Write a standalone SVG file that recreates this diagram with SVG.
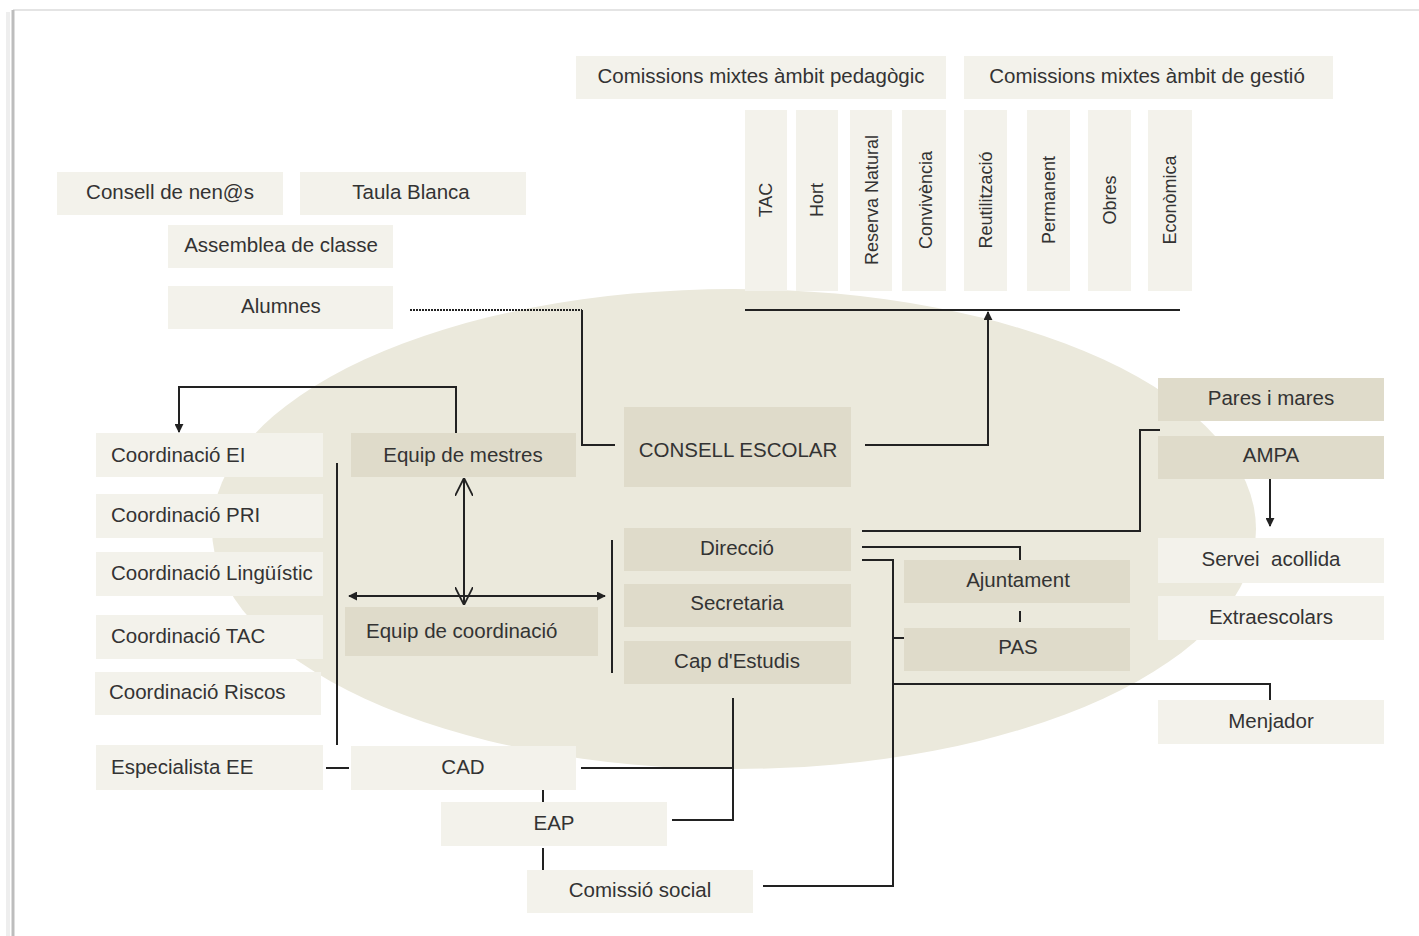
<svg xmlns="http://www.w3.org/2000/svg" width="1419" height="936" viewBox="0 0 1419 936">
<defs>
<marker id="ah" viewBox="0 0 10 10" refX="9" refY="5" markerWidth="9" markerHeight="9" orient="auto-start-reverse" markerUnits="userSpaceOnUse"><path d="M0,0 L10,5 L0,10 z" fill="#222"/></marker>
<marker id="ov" viewBox="0 0 10 10" refX="10" refY="5" markerWidth="18" markerHeight="18" orient="auto-start-reverse" markerUnits="userSpaceOnUse"><path d="M0,0 L10,5 L0,10" fill="none" stroke="#222" stroke-width="1"/></marker>
</defs>
<style>
.lt{fill:#f3f2eb}
.dk{fill:#dfdbca}
text{font-family:"Liberation Sans",Arial,sans-serif;font-size:20.5px;fill:#333;text-anchor:middle;white-space:pre}
.l{text-anchor:start}
.v{font-size:18px}
.c path{stroke:#222;stroke-width:2;fill:none}
</style>
<rect width="1419" height="936" fill="#fff"/>
<line x1="13" y1="10" x2="1419" y2="10" stroke="#e4e4e4" stroke-width="2"/>
<line x1="13" y1="10" x2="13" y2="936" stroke="#bdbdbd" stroke-width="3"/>
<line x1="8" y1="12" x2="8" y2="936" stroke="#eee" stroke-width="4"/>
<ellipse cx="734" cy="529" rx="522" ry="240" fill="#ebe9dc"/>

<g id="consell-nens"><rect class="lt" x="57" y="172" width="226" height="43"/><text x="170" y="199">Consell de nen@s</text></g>
<g id="taula-blanca"><rect class="lt" x="300" y="172" width="226" height="43"/><text x="411" y="199">Taula Blanca</text></g>
<g id="assemblea"><rect class="lt" x="168" y="225" width="225" height="43"/><text x="281" y="252">Assemblea de classe</text></g>
<g id="alumnes"><rect class="lt" x="168" y="286" width="225" height="43"/><text x="281" y="313">Alumnes</text></g>

<g id="cm-pedagogic"><rect class="lt" x="576" y="56" width="370" height="43"/><text x="761" y="83">Comissions mixtes àmbit pedagògic</text></g>
<g id="cm-gestio"><rect class="lt" x="964" y="56" width="369" height="43"/><text x="1147" y="83">Comissions mixtes àmbit de gestió</text></g>

<g id="tac"><rect class="lt" x="745" y="110" width="42" height="181"/><text class="v" transform="translate(772,200) rotate(-90)">TAC</text></g>
<g id="hort"><rect class="lt" x="796" y="110" width="42" height="181"/><text class="v" transform="translate(823,200) rotate(-90)">Hort</text></g>
<g id="reserva"><rect class="lt" x="850" y="110" width="42" height="181"/><text class="v" transform="translate(878,200) rotate(-90)">Reserva Natural</text></g>
<g id="convivencia"><rect class="lt" x="902" y="110" width="44" height="181"/><text class="v" transform="translate(932,200) rotate(-90)">Convivència</text></g>
<g id="reutilitzacio"><rect class="lt" x="964" y="110" width="43" height="181"/><text class="v" transform="translate(992,200) rotate(-90)">Reutilització</text></g>
<g id="permanent"><rect class="lt" x="1027" y="110" width="43" height="181"/><text class="v" transform="translate(1055,200) rotate(-90)">Permanent</text></g>
<g id="obres"><rect class="lt" x="1088" y="110" width="43" height="181"/><text class="v" transform="translate(1116,200) rotate(-90)">Obres</text></g>
<g id="economica"><rect class="lt" x="1148" y="110" width="44" height="181"/><text class="v" transform="translate(1176,200) rotate(-90)">Econòmica</text></g>

<g id="consell-escolar"><rect class="dk" x="624" y="407" width="227" height="80"/><text x="738" y="457">CONSELL ESCOLAR</text></g>

<g id="coord-ei"><rect class="lt" x="96" y="433" width="227" height="44"/><text class="l" x="111" y="462">Coordinació EI</text></g>
<g id="coord-pri"><rect class="lt" x="96" y="494" width="227" height="44"/><text class="l" x="111" y="522">Coordinació PRI</text></g>
<g id="coord-ling"><rect class="lt" x="96" y="552" width="227" height="44"/><text class="l" x="111" y="580">Coordinació Lingüístic</text></g>
<g id="coord-tac"><rect class="lt" x="96" y="615" width="227" height="44"/><text class="l" x="111" y="643">Coordinació TAC</text></g>
<g id="coord-riscos"><rect class="lt" x="95" y="672" width="226" height="43"/><text class="l" x="109" y="699">Coordinació Riscos</text></g>
<g id="especialista"><rect class="lt" x="96" y="745" width="227" height="45"/><text class="l" x="111" y="774">Especialista EE</text></g>

<g id="equip-mestres"><rect class="dk" x="351" y="433" width="225" height="44"/><text x="463" y="462">Equip de mestres</text></g>
<g id="equip-coord"><rect class="dk" x="345" y="607" width="253" height="49"/><text class="l" x="366" y="638">Equip de coordinació</text></g>

<g id="direccio"><rect class="dk" x="624" y="528" width="227" height="43"/><text x="737" y="555">Direcció</text></g>
<g id="secretaria"><rect class="dk" x="624" y="584" width="227" height="43"/><text x="737" y="610">Secretaria</text></g>
<g id="cap-estudis"><rect class="dk" x="624" y="641" width="227" height="43"/><text x="737" y="668">Cap d'Estudis</text></g>

<g id="ajuntament"><rect class="dk" x="904" y="560" width="226" height="43"/><text x="1018" y="587">Ajuntament</text></g>
<g id="pas"><rect class="dk" x="904" y="628" width="226" height="43"/><text x="1018" y="654">PAS</text></g>

<g id="pares"><rect class="dk" x="1158" y="378" width="226" height="43"/><text x="1271" y="405">Pares i mares</text></g>
<g id="ampa"><rect class="dk" x="1158" y="436" width="226" height="43"/><text x="1271" y="462">AMPA</text></g>
<g id="servei"><rect class="lt" x="1158" y="538" width="226" height="45"/><text x="1271" y="566">Servei  acollida</text></g>
<g id="extraescolars"><rect class="lt" x="1158" y="596" width="226" height="44"/><text x="1271" y="624">Extraescolars</text></g>
<g id="menjador"><rect class="lt" x="1158" y="700" width="226" height="44"/><text x="1271" y="728">Menjador</text></g>

<g id="cad"><rect class="lt" x="351" y="746" width="225" height="44"/><text x="463" y="774">CAD</text></g>
<g id="eap"><rect class="lt" x="441" y="802" width="226" height="44"/><text x="554" y="830">EAP</text></g>
<g id="comissio-social"><rect class="lt" x="527" y="870" width="226" height="43"/><text x="640" y="897">Comissió social</text></g>

<g id="connectors" class="c">
<path d="M410,310 H582" stroke-dasharray="2,1" stroke-width="1.5"/>
<path d="M582,310 V445 H615"/>
<path d="M745,310 H1180"/>
<path d="M865,445 H988 V312" marker-end="url(#ah)"/>
<path d="M456,433 V387 H179 V432" marker-end="url(#ah)"/>
<path d="M337,463 V745"/>
<path d="M612,540 V673"/>
<path d="M349,596 H605" marker-start="url(#ah)" marker-end="url(#ah)"/>
<path d="M464,478 V605" stroke-width="1.5" marker-start="url(#ov)" marker-end="url(#ov)"/>
<path d="M862,531 H1140 V430 H1160"/>
<path d="M862,547 H1020 V560"/>
<path d="M862,560 H893 V886 H763"/>
<path d="M893,638 H904"/>
<path d="M893,684 H1270 V700"/>
<path d="M1020,611 V622"/>
<path d="M1270,479 V526" marker-end="url(#ah)"/>
<path d="M733,698 V820 H672"/>
<path d="M581,768 H733"/>
<path d="M326,768 H349"/>
<path d="M543,790 V802"/>
<path d="M543,848 V870"/>
</g>
</svg>
